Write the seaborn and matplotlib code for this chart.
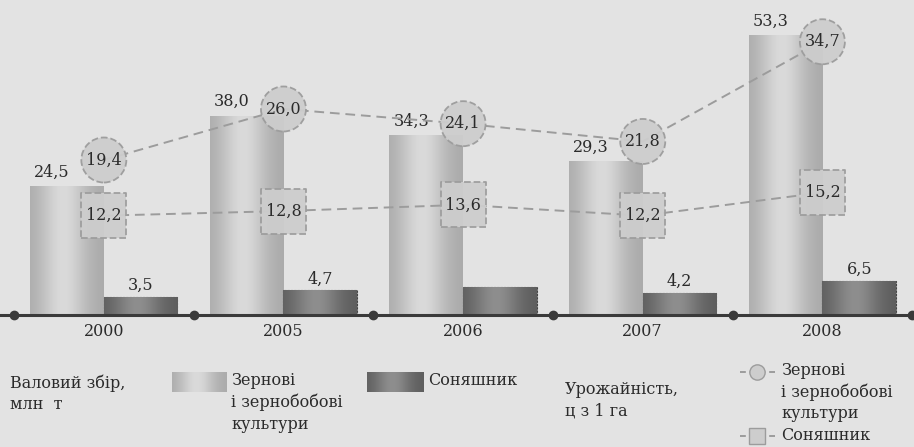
import matplotlib
matplotlib.use("Agg")
import matplotlib.pyplot as plt
import numpy as np
import pandas as pd
import seaborn as sns
from matplotlib.colors import LinearSegmentedColormap
from matplotlib.lines import Line2D
from matplotlib.patches import Rectangle

years = ["2000", "2005", "2006", "2007", "2008"]
grain_output = [24.5, 38.0, 34.3, 29.3, 53.3]        # млн т
sunflower_output = [3.5, 4.7, 5.3, 4.2, 6.5]        # млн т
grain_yield = [19.4, 26.0, 24.1, 21.8, 34.7]        # ц з 1 га
sunflower_yield = [12.2, 12.8, 13.6, 12.2, 15.2]    # ц з 1 га
sunflower_labelled = [True, True, False, True, True]  # 2006 is unlabelled in the source

crops = ["Зернові і зернобобові культури", "Соняшник"]

sns.set_theme(style="white")
plt.rcParams["font.family"] = ["DejaVu Serif"]

BG = "#e3e3e3"
INK = "#2b2b2b"
GRAIN = ("#a9a9a9", "#dadada")
SUN = ("#5c5c5c", "#8e8e8e")
MARK = "#cdcdcd"
DASH = "#9c9c9c"


def fmt(v):
    return f"{v:.1f}".replace(".", ",")


def shade(ax, patch, colors, z):
    # cylinder-like horizontal gradient clipped to the bar
    x, y = patch.get_x(), patch.get_y()
    w, h = patch.get_width(), patch.get_height()
    t = np.linspace(0, 1, 64)
    g = np.exp(-((t - 0.45) / 0.32) ** 2)
    cmap = LinearSegmentedColormap.from_list("", list(colors))
    im = ax.imshow(g[None, :], extent=(x, x + w, y, y + h), cmap=cmap,
                   vmin=0, vmax=1, aspect="auto", zorder=z, interpolation="bicubic")
    im.set_clip_path(patch)


df = pd.DataFrame({
    "year": years * 2,
    "crop": [crops[0]] * len(years) + [crops[1]] * len(years),
    "value": grain_output + sunflower_output,
})

fig = plt.figure(figsize=(9.14, 4.47), dpi=100, facecolor=BG)
ax = fig.add_axes([0, 132 / 447, 1, 315 / 447])
ax.set_facecolor("none")

sns.barplot(data=df, x="year", y="value", hue="crop", hue_order=crops,
            width=0.82, palette=[GRAIN[0], SUN[0]], saturation=1,
            legend=False, ax=ax)

grain_bars, sun_bars = ax.containers[0], ax.containers[1]
for b in grain_bars:
    b.set_zorder(2)
    b.set_edgecolor("none")
    shade(ax, b, GRAIN, 2)
for b in sun_bars:
    b.set_zorder(3)
    b.set_edgecolor("#444444")
    b.set_linewidth(0.8)
    b.set_linestyle((0, (2, 1)))
    shade(ax, b, SUN, 3)

for b, v in zip(grain_bars, grain_output):
    ax.annotate(fmt(v), (b.get_x(), v), xytext=(3, 10), textcoords="offset points",
                ha="left", va="center", fontsize=11.5, color=INK, zorder=5)
for b, v, show in zip(sun_bars, sunflower_output, sunflower_labelled):
    if show:
        ax.annotate(fmt(v), (b.get_x() + b.get_width() / 2, v), xytext=(0, 2),
                    textcoords="offset points", ha="center", va="bottom",
                    fontsize=11.5, color=INK, zorder=5)

# axis line with dots at the category boundaries
edges = np.arange(len(years) + 1) - 0.5
ax.plot(edges, np.zeros(len(edges)), "o", ms=6, color="#3a3a3a", clip_on=False, zorder=6)
for s in ["top", "left", "right"]:
    ax.spines[s].set_visible(False)
ax.spines["bottom"].set_color("#3a3a3a")
ax.spines["bottom"].set_linewidth(2.2)
ax.spines["bottom"].set_zorder(5)
ax.set_yticks([])
ax.set_xlabel("")
ax.set_ylabel("")
ax.tick_params(axis="x", length=0, pad=6, labelsize=11.5, labelcolor=INK)

# yields on a second scale
ax2 = ax.twinx()
ax2.set_facecolor("none")
pos = np.arange(len(years))
for vals, marker in [(grain_yield, "o"), (sunflower_yield, "s")]:
    sns.lineplot(x=pos, y=vals, ax=ax2, color=DASH, lw=1.4, dashes=False,
                 linestyle=(0, (5, 3)), zorder=3)
    sns.scatterplot(x=pos, y=vals, ax=ax2, marker=marker, s=1050, color=MARK,
                    edgecolor=DASH, linewidth=1.3, linestyle="--", alpha=0.95, zorder=4)
    for x, v in zip(pos, vals):
        ax2.text(x, v, fmt(v), ha="center", va="center", fontsize=11.5, color=INK, zorder=5)
for s in ax2.spines.values():
    s.set_visible(False)
ax2.set_yticks([])

ax.set_xlim(-0.578, 4.51)
ax.set_ylim(0, 60)
ax2.set_ylim(-0.65, 40.1)

# legend strip
lg = fig.add_axes([0, 0, 1, 132 / 447])
lg.set_xlim(0, 914)
lg.set_ylim(447, 315)
lg.axis("off")
kw = dict(fontsize=11.5, color=INK, va="top", ha="left", linespacing=1.35)
lg.text(10, 374, "Валовий збір,\nмлн  т", **kw)
for (x0, w), cols in [((172, 55), GRAIN), ((367, 57), SUN)]:
    r = Rectangle((x0, 372), w, 20, facecolor=cols[0], edgecolor="none")
    lg.add_patch(r)
    shade(lg, r, cols, 2)
lg.text(231, 372, "Зернові\nі зернобобові\nкультури", **kw)
lg.text(428, 372, "Соняшник", **kw)
lg.text(565, 381, "Урожайність,\nц з 1 га", **kw)
for yy, m in [(372, "o"), (436, "s")]:
    lg.add_line(Line2D([740, 777], [yy, yy], color=DASH, lw=1.4, ls=(0, (3, 2))))
    lg.plot([757], [yy], marker=m, ms=11, color=MARK, mec=DASH, mew=1)
lg.text(781, 362, "Зернові\nі зернобобові", **kw)
lg.text(781, 405, "культури", **kw)
lg.text(781, 427, "Соняшник", **kw)
lg.set_xlim(0, 914)
lg.set_ylim(447, 315)

fig.savefig("out.png", dpi=100, facecolor=BG)
